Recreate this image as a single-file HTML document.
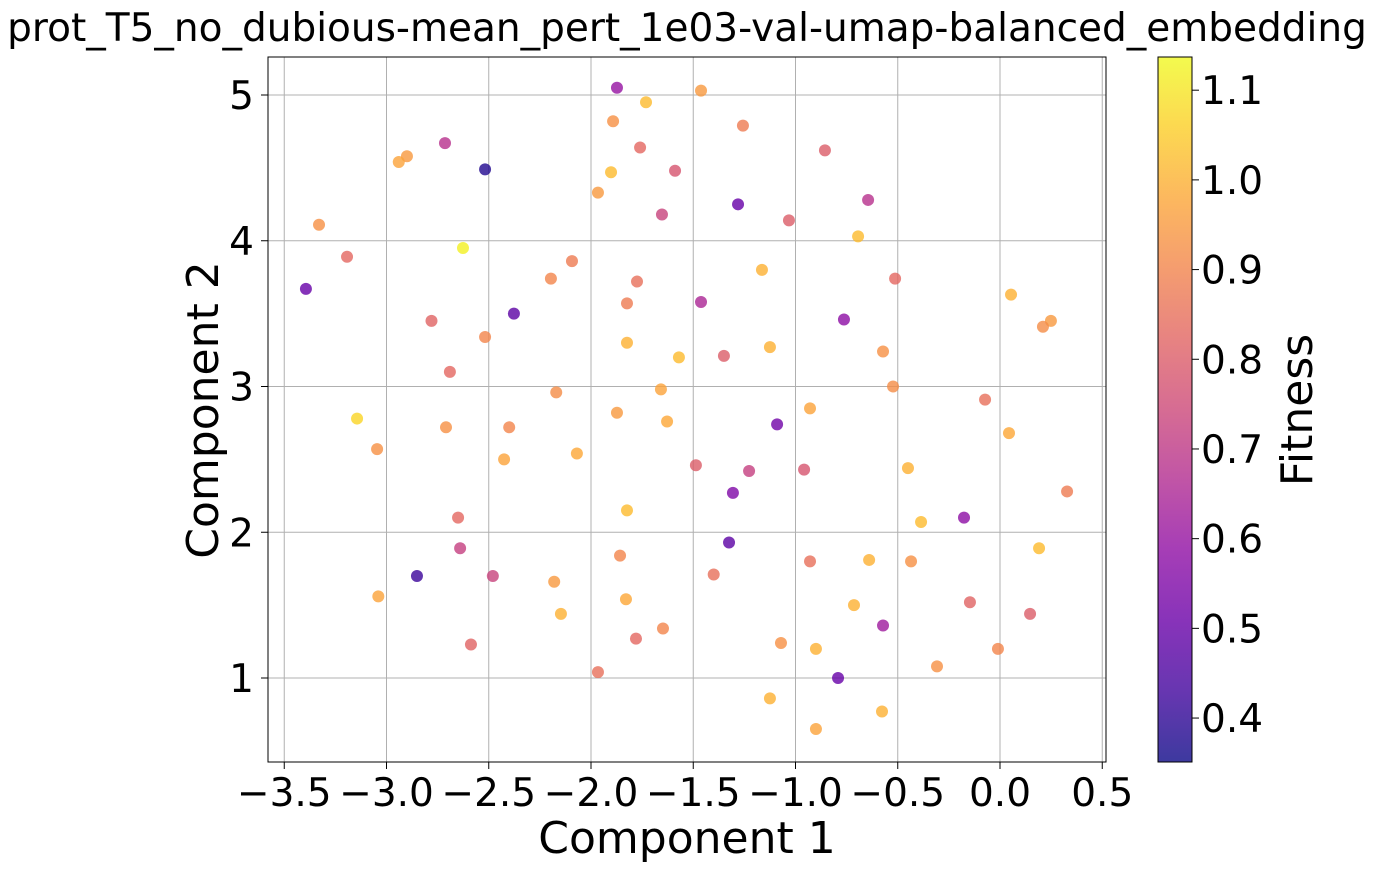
<!DOCTYPE html>
<html><head><meta charset="utf-8"><style>
html,body{margin:0;padding:0;background:#fff;}
svg{display:block;font-family:"DejaVu Sans","Liberation Sans",sans-serif;}
</style></head><body>
<svg id="chart" width="1374" height="872" viewBox="0 0 1374 872" xmlns="http://www.w3.org/2000/svg">
<defs>
<linearGradient id="plasma" x1="0" y1="1" x2="0" y2="0">
<stop offset="0" stop-color="#0d0887"/><stop offset="0.1" stop-color="#41049d"/><stop offset="0.2" stop-color="#6a00a8"/><stop offset="0.3" stop-color="#8f0da4"/><stop offset="0.4" stop-color="#b12a90"/><stop offset="0.5" stop-color="#cc4778"/><stop offset="0.6" stop-color="#e16462"/><stop offset="0.7" stop-color="#f2844b"/><stop offset="0.8" stop-color="#fca636"/><stop offset="0.9" stop-color="#fcce25"/><stop offset="1" stop-color="#f0f921"/>
</linearGradient>
</defs>
<text x="687" y="41" font-size="39" text-anchor="middle">prot_T5_no_dubious-mean_pert_1e03-val-umap-balanced_embedding</text>
<g id="grid"></g>
<g id="points"></g>
<rect x="268" y="57" width="838" height="705" fill="none" stroke="#000" stroke-width="1"/>
<g id="xticks"></g><g id="yticks"></g>
<text x="687" y="853" font-size="44" text-anchor="middle">Component 1</text>
<text transform="translate(218,410) rotate(-90)" font-size="44" text-anchor="middle">Component 2</text>
<rect x="1158" y="57" width="34" height="705" fill="url(#plasma)" fill-opacity="0.8" stroke="#000" stroke-width="1"/>
<g id="cticks"></g>
<text transform="translate(1312,410) rotate(-90)" font-size="44" text-anchor="middle">Fitness</text>
</svg>
<script>
const xs=[-1.873,-1.462,-1.731,-1.892,-1.257,-2.714,-1.760,-0.856,-2.90,-2.94,-2.518,-1.589,-1.902,-1.966,-1.281,-0.645,-1.653,-1.032,-3.33,-0.694,-2.626,-3.193,-2.093,-1.164,-2.196,-1.775,-0.513,-3.394,0.054,-1.824,-1.462,-2.377,0.249,-0.763,-2.78,0.21,-2.518,-1.824,-1.125,-0.572,-1.57,-1.35,-2.69,-0.523,-1.658,-2.17,-0.073,-0.929,-1.873,-3.144,-1.628,-1.09,-2.709,-2.40,0.044,-3.046,-2.069,-2.425,-1.487,-0.45,-0.958,-1.227,-1.306,0.328,-1.824,-2.65,-0.176,-0.386,-1.325,-2.64,0.191,-1.858,-0.929,-0.64,-0.435,-1.40,-2.48,-2.851,-2.18,-3.04,-1.829,-0.147,-0.714,-2.147,0.147,-0.572,-1.648,-1.78,-2.587,-1.071,-0.90,-0.01,-0.308,-1.966,-0.792,-1.125,-0.577,-0.90];
const ys=[5.05,5.03,4.95,4.82,4.79,4.67,4.64,4.62,4.58,4.54,4.49,4.48,4.47,4.33,4.25,4.28,4.18,4.14,4.11,4.03,3.95,3.89,3.86,3.80,3.74,3.72,3.74,3.67,3.63,3.57,3.58,3.50,3.45,3.46,3.45,3.41,3.34,3.30,3.27,3.24,3.20,3.21,3.10,3.00,2.98,2.96,2.91,2.85,2.82,2.78,2.76,2.74,2.72,2.72,2.68,2.57,2.54,2.50,2.46,2.44,2.43,2.42,2.27,2.28,2.15,2.10,2.10,2.07,1.93,1.89,1.89,1.84,1.80,1.81,1.80,1.71,1.70,1.70,1.66,1.56,1.54,1.52,1.50,1.44,1.44,1.36,1.34,1.27,1.23,1.24,1.20,1.20,1.08,1.04,1.00,0.86,0.77,0.65];
const fit=[0.6,0.95,1.02,0.93,0.88,0.68,0.83,0.8,0.95,0.97,0.38,0.78,1.02,0.95,0.5,0.68,0.73,0.8,0.93,1.02,1.12,0.83,0.88,1.0,0.9,0.85,0.83,0.5,1.0,0.88,0.65,0.48,0.95,0.58,0.82,0.92,0.9,1.0,1.0,0.93,1.02,0.8,0.83,0.92,0.97,0.92,0.85,0.97,0.95,1.07,0.98,0.52,0.93,0.9,0.98,0.93,0.98,0.97,0.8,1.0,0.78,0.72,0.55,0.88,1.02,0.83,0.58,1.02,0.48,0.72,1.02,0.9,0.85,1.0,0.93,0.85,0.73,0.42,0.95,0.97,0.98,0.82,1.0,1.0,0.8,0.62,0.9,0.83,0.82,0.93,1.0,0.9,0.93,0.85,0.5,1.0,1.0,0.97];
const xTicks=[-3.5,-3.0,-2.5,-2.0,-1.5,-1.0,-0.5,0.0,0.5];
const xTickLabels=["\u22123.5","\u22123.0","\u22122.5","\u22122.0","\u22121.5","\u22121.0","\u22120.5","0.0","0.5"];
const yTicks=[1,2,3,4,5];
const cTicks=[0.4,0.5,0.6,0.7,0.8,0.9,1.0,1.1];
const NS="http://www.w3.org/2000/svg";
const X=v=>1000+v*204.5, Y=v=>95+(5-v)*145.75;
const vmin=0.351,vmax=1.137;
const C=v=>762-(v-vmin)/(vmax-vmin)*705;
const stops=[[13,8,135],[65,4,157],[106,0,168],[143,13,164],[177,42,144],[204,71,120],[225,100,98],[242,132,75],[252,166,54],[252,206,37],[240,249,33]];
function plasma(v){let t=Math.max(0,Math.min(1,(v-vmin)/(vmax-vmin)))*10;let i=Math.min(9,Math.floor(t)),f=t-i;const a=stops[i],b=stops[i+1];return `rgb(${a.map((c,k)=>Math.round(c+(b[k]-c)*f)).join(',')})`;}
function mk(tag,attrs,parent,txt){const e=document.createElementNS(NS,tag);for(const k in attrs)e.setAttribute(k,attrs[k]);if(txt!==undefined)e.textContent=txt;document.getElementById(parent).appendChild(e);return e;}
xTicks.forEach((t,i)=>{
 const g=mk('line',{x1:X(t),x2:X(t),y1:57,y2:762,stroke:'#b0b0b0','stroke-width':1},'grid');
 
 
 const tk=mk('line',{x1:X(t),x2:X(t),y1:762,y2:769,stroke:'#000'},'xticks');
 
 
 const l=mk('text',{x:X(t),y:806,'font-size':39,'text-anchor':'middle'},'xticks',xTickLabels[i]);
 
 
});
yTicks.forEach(t=>{
 const g=mk('line',{x1:268,x2:1106,y1:Y(t),y2:Y(t),stroke:'#b0b0b0','stroke-width':1},'grid');
 
 
 const tk=mk('line',{x1:261,x2:268,y1:Y(t),y2:Y(t),stroke:'#000'},'yticks');
 
 
 const l=mk('text',{x:254,y:Y(t)+14,'font-size':39,'text-anchor':'end'},'yticks',String(t));
 
 
});
cTicks.forEach(t=>{
 const tk=mk('line',{x1:1192,x2:1199,y1:C(t),y2:C(t),stroke:'#000'},'cticks');
 
 
 const l=mk('text',{x:1201,y:C(t)+14,'font-size':39},'cticks',t.toFixed(1));
 
 
});
xs.forEach((x,i)=>{
 const c=mk('circle',{cx:X(x),cy:Y(ys[i]),r:6,fill:plasma(fit[i]),'fill-opacity':0.8},'points');
 
 
});
</script>
</body></html>
